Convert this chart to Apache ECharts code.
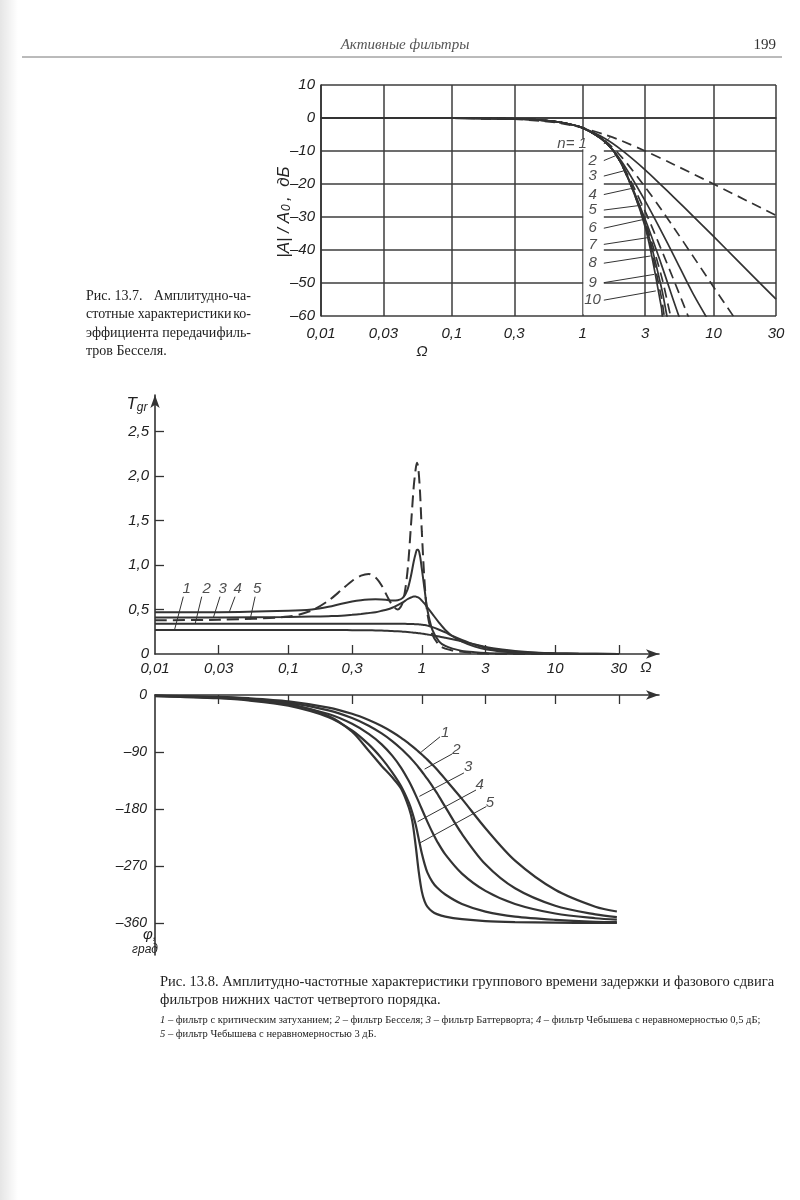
<!DOCTYPE html>
<html><head><meta charset="utf-8">
<script src="https://cdn.jsdelivr.net/npm/echarts@6/dist/echarts.min.js"></script>
<style>html,body{margin:0;padding:0;background:#fff}#c{width:800px;height:1200px}</style>
</head><body><div id="c"></div>
<script>
// ---------- data ----------
const omegaTicks = [0.01, 0.03, 0.1, 0.3, 1, 3, 10, 30];
const ampYTicks = [10, 0, -10, -20, -30, -40, -50, -60];
// Fig 13.7: Bessel filters, |A|/A0 in dB vs Omega, n = 1..10
const bessel1 = [[0.01,0],[0.1,-0.04],[0.3,-0.37],[0.5,-0.97],[0.7,-1.71],[1,-3.01],[1.5,-5.12],[2,-6.99],[3,-10],[5,-14.15],[10,-20],[20,-26],[30,-29.5]];
const bessel2 = [[0.01,0],[0.1,-0.03],[0.3,-0.25],[0.5,-0.71],[0.7,-1.44],[1,-3],[1.5,-6.36],[2,-9.82],[3,-15.7],[4,-20.4],[5,-24.1],[7,-29.8],[10,-35.9],[15,-42.9],[20,-47.9],[30,-54.9]];
const bessel3 = [[0.01,0],[0.1,-0.03],[0.3,-0.27],[0.5,-0.69],[0.7,-1.4],[1,-3],[1.5,-7.12],[2,-12],[3,-20.9],[4,-27.8],[5,-33.4],[7,-42],[10,-51.2],[15,-61.5]];
const bessel4 = [[0.01,0],[0.1,-0.03],[0.3,-0.26],[0.5,-0.71],[0.7,-1.42],[1,-3],[1.5,-7.42],[2,-13.4],[3,-25.1],[4,-34.4],[5,-41.9],[7,-53.4],[10,-64]];
const bessel5 = [[0.01,0],[0.1,-0.03],[0.3,-0.27],[0.5,-0.72],[0.7,-1.43],[1,-3],[1.5,-7.41],[2,-14.06],[3,-28.3],[4,-40],[5,-49.4],[7,-64]];
const bessel6 = [[0.01,0],[0.1,-0.03],[0.3,-0.27],[0.5,-0.72],[0.7,-1.43],[1,-3],[1.5,-7.4],[2,-14.2],[3,-30.7],[4,-44.5],[5,-55.9],[6,-65]];
const bessel7 = [[0.01,0],[0.1,-0.03],[0.3,-0.27],[0.5,-0.72],[0.7,-1.43],[1,-3],[1.5,-7.38],[2,-14.3],[3,-31.5],[4,-48],[4.7,-60],[5.2,-66]];
const bessel8 = [[0.01,0],[0.1,-0.03],[0.3,-0.27],[0.5,-0.72],[0.7,-1.43],[1,-3],[1.5,-7.35],[2,-14.3],[3,-32],[4,-51.5],[4.4,-60],[5,-71]];
const bessel9 = [[0.01,0],[0.1,-0.03],[0.3,-0.27],[0.5,-0.72],[0.7,-1.43],[1,-3],[1.5,-7.33],[2,-14.3],[3,-32.5],[4,-54.5],[4.2,-60],[5,-76]];
const bessel10 = [[0.01,0],[0.1,-0.03],[0.3,-0.27],[0.5,-0.72],[0.7,-1.43],[1,-3],[1.5,-7.3],[2,-14.3],[3,-33],[4,-57.5],[4.06,-60],[5,-80]];
const besselLabels = ['n= 1','2','3','4','5','6','7','8','9','10'];
const besselLabelPos = [[0.83,-7.9],[1.19,-12.9],[1.19,-17.6],[1.19,-23.2],[1.19,-27.9],[1.19,-33.4],[1.19,-38.3],[1.19,-44],[1.19,-49.9],[1.19,-55.2]];
const besselLeaderEnd = [[1.62,-5.8],[1.79,-11.4],[2.07,-16],[2.33,-21.4],[2.86,-26.4],[3.03,-30.6],[3.21,-36.2],[3.31,-41.8],[3.51,-47.4],[3.62,-52.4]];

// Fig 13.8 top: group delay Tgr vs Omega (1 crit., 2 Bessel, 3 Butterworth, 4 Cheb 0.5 dB, 5 Cheb 3 dB)
const gdOmega = [0.01,0.03,0.1,0.15,0.2,0.25,0.3,0.35,0.4,0.45,0.5,0.55,0.6,0.66,0.72,0.78,0.83,0.87,0.9,0.92,0.94,0.97,1.0,1.05,1.1,1.2,1.35,1.5,1.7,2.0,2.5,3,4,5,7,10,15,30];
const gd1 = [0.27,0.27,0.27,0.27,0.269,0.269,0.268,0.267,0.266,0.265,0.263,0.261,0.258,0.255,0.251,0.247,0.243,0.24,0.238,0.236,0.234,0.232,0.229,0.225,0.22,0.21,0.196,0.182,0.165,0.142,0.108,0.08,0.05,0.033,0.018,0.009,0.004,0.001];
const gd2 = [0.34,0.34,0.34,0.34,0.34,0.34,0.34,0.34,0.34,0.34,0.34,0.34,0.34,0.34,0.339,0.338,0.337,0.336,0.335,0.334,0.333,0.331,0.329,0.325,0.319,0.302,0.272,0.242,0.203,0.158,0.104,0.072,0.041,0.026,0.013,0.0065,0.003,0.001];
const gd3 = [0.41,0.41,0.415,0.42,0.425,0.43,0.44,0.45,0.46,0.47,0.485,0.5,0.52,0.55,0.58,0.615,0.635,0.645,0.645,0.64,0.635,0.62,0.6,0.565,0.525,0.45,0.35,0.27,0.2,0.14,0.083,0.053,0.028,0.017,0.008,0.004,0.002,0.0005];
const gd4 = [0.47,0.47,0.485,0.5,0.53,0.565,0.59,0.605,0.612,0.614,0.612,0.607,0.602,0.605,0.63,0.72,0.88,1.04,1.13,1.17,1.17,1.1,0.96,0.72,0.5,0.27,0.14,0.09,0.06,0.035,0.02,0.012,0.006,0.004,0.002,0.001,0.0005,0];
const gd5 = [0.38,0.385,0.42,0.49,0.6,0.72,0.82,0.88,0.9,0.86,0.77,0.65,0.55,0.5,0.58,0.92,1.45,1.88,2.08,2.15,2.1,1.82,1.38,0.8,0.46,0.22,0.1,0.06,0.04,0.025,0.01,0.005,0.002,0.001,0,0,0,0];
const gdYTicks = [0.5, 1, 1.5, 2, 2.5];
const gdYLabels = [0, 0.5, 1, 1.5, 2, 2.5];
const gdLabelPos = [[0.0173,0.727],[0.0244,0.727],[0.0322,0.727],[0.0417,0.727],[0.0584,0.727]];
const gdLeaderStart = [[0.0163,0.644],[0.0224,0.644],[0.0307,0.644],[0.0398,0.644],[0.0563,0.644]];
const gdLeaderEnd = [[0.0140,0.27],[0.0200,0.34],[0.0274,0.41],[0.0360,0.47],[0.0516,0.385]];

// Fig 13.8 bottom: phase shift phi (deg) vs Omega
const phOmega = [0.01,0.03,0.05,0.1,0.2,0.3,0.4,0.5,0.6,0.7,0.8,0.85,0.9,0.95,1.0,1.05,1.1,1.2,1.3,1.5,2,3,5,10,20,29];
const ph1 = [-1,-3,-5,-10,-19.9,-29.7,-39.5,-49.1,-58.5,-67.7,-76.7,-81.1,-85.4,-89.7,-93.9,-98,-102,-110,-117.7,-132.9,-164,-210.3,-261.4,-307.5,-334.3,-341.8];
const ph2 = [-1.2,-3.6,-6.05,-12.1,-24.2,-36.3,-48.4,-60.6,-72.7,-84.8,-96.8,-102.8,-108.8,-114.8,-120.8,-126.8,-132.6,-144,-155,-176.7,-219.4,-267.3,-305.2,-332.8,-346.4,-350.6];
const ph3 = [-1.5,-4.5,-7.5,-15,-30.1,-45.5,-61.4,-77.9,-95.7,-114.9,-135.8,-146.9,-158.1,-169.2,-180,-190.3,-199.9,-216.8,-230.8,-251.7,-282,-309.3,-329.9,-345,-352.5,-354.8];
const ph4 = [-1.7,-5.1,-8.5,-17,-35,-56,-78,-100,-122,-144,-170,-186,-205,-228,-250,-267,-280,-295,-304,-315,-330,-342,-350,-355,-358,-358.5];
const ph5 = [-1.4,-4.1,-6.9,-14,-33,-58,-88,-112,-130,-148,-178,-200,-238,-280,-310,-326,-334,-342,-346,-350,-354,-357,-358.5,-359.5,-360,-360];
const phYTicks = [-90, -180, -270, -360];
const phYLabels = [0, -90, -180, -270, -360];
const phLabelPos = [[1.5,-60],[1.82,-87],[2.23,-114],[2.71,-142],[3.24,-170]];
const phLeaderStart = [[1.37,-66],[1.69,-93],[2.07,-123],[2.55,-150],[3.05,-176]];
const phLeaderEnd = [[0.99,-90],[1.05,-117],[0.96,-160],[0.93,-200],[0.96,-234]];
const curveNames = ['1','2','3','4','5'];

// ---------- helpers ----------
const INK = '#333';
const SANS = '"Liberation Sans", "DejaVu Sans", sans-serif';
const SERIF = '"Liberation Serif", "DejaVu Serif", serif';
const commaNum = v => String(Number(Number(v).toPrecision(4))).replace('.', ',');
const dashNum = v => v === 0 ? '0' : (v < 0 ? '\u2013' + Math.abs(v) : String(v));
const zipXY = (xs, ys) => xs.map((x, i) => [x, ys[i]]);

const ampSeries = [bessel1,bessel2,bessel3,bessel4,bessel5,bessel6,bessel7,bessel8,bessel9,bessel10].map((d, i) => ({
  type: 'line', xAxisIndex: 0, yAxisIndex: 0, data: d, smooth: 0.3, showSymbol: false, silent: true,
  lineStyle: { color: INK, width: 1.7, type: (i % 2 === 0) ? [10, 6] : 'solid' }, z: 3
}));

const gdSeries = [gd1, gd2, gd3, gd4, gd5].map((d, i) => ({
  type: 'line', xAxisIndex: 1, yAxisIndex: 1, data: zipXY(gdOmega, d), smooth: 0.3, showSymbol: false, silent: true,
  lineStyle: { color: INK, width: 2, type: i === 4 ? [12, 6] : 'solid' }, z: 3
}));

const phSeries = [ph1, ph2, ph3, ph4, ph5].map((d) => ({
  type: 'line', xAxisIndex: 2, yAxisIndex: 2, data: zipXY(phOmega, d), smooth: 0.3, showSymbol: false, silent: true,
  lineStyle: { color: INK, width: 2.2 }, z: 3
}));

function labelSeries(ax, pos, names, size) {
  return {
    type: 'scatter', xAxisIndex: ax, yAxisIndex: ax, symbolSize: 1, silent: true,
    itemStyle: { color: 'rgba(0,0,0,0)' },
    data: pos.map((p, i) => ({ value: p, name: names[i] })),
    label: { show: true, position: 'inside', formatter: '{b}', color: '#222',
      fontFamily: SANS, fontStyle: 'italic', fontSize: size }, z: 5
  };
}
function leaderSeries(ax, starts, ends) {
  return {
    type: 'lines', coordinateSystem: 'cartesian2d', xAxisIndex: ax, yAxisIndex: ax, silent: true,
    data: starts.map((s, i) => ({ coords: [s, ends[i]] })),
    lineStyle: { color: '#333', width: 1, opacity: 1 }, z: 5
  };
}

const axisLineStyle = { color: INK, width: 1.6 };
const tickLabel = (extra) => Object.assign({ color: '#222', fontFamily: SANS, fontStyle: 'italic', fontSize: 15 }, extra);

// caption helpers (justified-looking: first part left, last part right)
const CAP_L = 86, CAP_R = 251;
const capFont = '14px ' + SERIF;
function capLine(y, left, right) {
  const out = [{ type: 'text', x: CAP_L, y, style: { text: left, font: capFont, fill: '#222', verticalAlign: 'middle' } }];
  if (right) out.push({ type: 'text', x: CAP_R, y, style: { text: right, font: capFont, fill: '#222', align: 'right', verticalAlign: 'middle' } });
  return out;
}

const option = {
  animation: false,
  backgroundColor: '#fff',
  grid: [
    { left: 321, top: 85, width: 455, height: 231 },
    { left: 155, top: 395, width: 504, height: 259 },
    { left: 155, top: 695, width: 504, height: 260 }
  ],
  xAxis: [
    { type: 'log', gridIndex: 0, logBase: 10, min: 0.01, max: 30,
      axisLine: { show: true, lineStyle: axisLineStyle },
      axisTick: { show: false, customValues: omegaTicks },
      axisLabel: tickLabel({ customValues: omegaTicks, formatter: commaNum, margin: 10 }),
      splitLine: { show: true, lineStyle: { color: '#3c3c3c', width: 1.5 } } },
    { type: 'log', gridIndex: 1, logBase: 10, min: 0.01, max: 60,
      axisLine: { show: true, lineStyle: axisLineStyle, symbol: ['none', 'arrow'], symbolSize: [7, 13] },
      axisTick: { show: true, inside: true, length: 9, customValues: omegaTicks.slice(1), lineStyle: { color: INK, width: 1.3 } },
      axisLabel: tickLabel({ customValues: omegaTicks, formatter: commaNum, margin: 7 }),
      splitLine: { show: false } },
    { type: 'log', gridIndex: 2, logBase: 10, min: 0.01, max: 60, position: 'top',
      axisLine: { show: true, lineStyle: axisLineStyle, symbol: ['none', 'arrow'], symbolSize: [7, 13] },
      axisTick: { show: true, inside: true, length: 9, customValues: omegaTicks.slice(1), lineStyle: { color: INK, width: 1.3 } },
      axisLabel: { show: false },
      splitLine: { show: false } }
  ],
  yAxis: [
    { type: 'value', gridIndex: 0, min: -60, max: 10, interval: 10,
      axisLine: { show: true, lineStyle: axisLineStyle },
      axisTick: { show: false },
      axisLabel: tickLabel({ formatter: dashNum, margin: 6 }),
      splitLine: { show: true, lineStyle: { color: '#3c3c3c', width: 1.5 } } },
    { type: 'value', gridIndex: 1, min: 0, max: 2.91,
      axisLine: { show: true, lineStyle: axisLineStyle, symbol: ['none', 'arrow'], symbolSize: [7, 13] },
      axisTick: { show: true, inside: true, length: 9, customValues: gdYTicks, lineStyle: { color: INK, width: 1.3 } },
      axisLabel: tickLabel({ customValues: gdYLabels, margin: 6, formatter: v => v === 0 ? '0' : v.toFixed(1).replace('.', ',') }),
      splitLine: { show: false } },
    { type: 'value', gridIndex: 2, min: -410.5, max: 0,
      axisLine: { show: true, lineStyle: axisLineStyle },
      axisTick: { show: true, inside: true, length: 9, customValues: phYTicks, lineStyle: { color: INK, width: 1.3 } },
      axisLabel: tickLabel({ customValues: phYLabels, margin: 8, fontSize: 14, formatter: dashNum }),
      splitLine: { show: false } }
  ],
  series: [
    { type: 'line', xAxisIndex: 0, yAxisIndex: 0, data: [[0.01, 0]], showSymbol: false, silent: true,
      lineStyle: { opacity: 0 }, z: 2,
      markArea: { silent: true, itemStyle: { color: '#fff', opacity: 1 },
        data: [[{ coord: [0.78, -6.3] }, { coord: [1.28, -9.5] }],
               [{ coord: [1.012, -9.5] }, { coord: [1.45, -59.5] }]] } },
    ...ampSeries,
    labelSeries(0, besselLabelPos, besselLabels, 15),
    leaderSeries(0, besselLabelPos.map(p => [1.45, p[1]]), besselLeaderEnd),
    ...gdSeries,
    labelSeries(1, gdLabelPos, curveNames, 15),
    leaderSeries(1, gdLeaderStart, gdLeaderEnd),
    ...phSeries,
    labelSeries(2, phLabelPos, curveNames, 15),
    leaderSeries(2, phLeaderStart, phLeaderEnd)
  ],
  graphic: [
    // faint scan shading at the left page edge
    { type: 'rect', shape: { x: 0, y: 0, width: 18, height: 1200 }, silent: true,
      style: { fill: { type: 'linear', x: 0, y: 0, x2: 1, y2: 0, colorStops: [{ offset: 0, color: 'rgba(0,0,0,0.10)' }, { offset: 1, color: 'rgba(0,0,0,0)' }] } } },
    // page header
    { type: 'text', x: 405, y: 45, style: { text: 'Активные фильтры', font: 'italic 15px ' + SERIF, fill: '#555', align: 'center', verticalAlign: 'middle' } },
    { type: 'text', x: 776, y: 45, style: { text: '199', font: '15px ' + SERIF, fill: '#333', align: 'right', verticalAlign: 'middle' } },
    { type: 'line', shape: { x1: 22, y1: 57, x2: 782, y2: 57 }, style: { stroke: '#777', lineWidth: 1 } },
    // fig 13.7 axis names
    { type: 'text', x: 284, y: 212, rotation: Math.PI / 2,
      style: { text: '{a||A| / A}{s|0} {a|,  дБ}', align: 'center', verticalAlign: 'middle',
        rich: { a: { font: 'italic 17px ' + SANS, fill: '#222' }, s: { font: 'italic 12px ' + SANS, fill: '#222', padding: [6, 0, 0, 1] } } } },
    { type: 'text', x: 422, y: 352, style: { text: 'Ω', font: 'italic 15px ' + SANS, fill: '#222', align: 'center', verticalAlign: 'middle' } },
    // fig 13.7 caption
    ...capLine(296, 'Рис. 13.7.', 'Амплитудно-ча-'),
    ...capLine(314.5, 'стотные характеристики', 'ко-'),
    ...capLine(333, 'эффициента передачи', 'филь-'),
    ...capLine(351.5, 'тров Бесселя.', null),
    // fig 13.8 axis names
    { type: 'text', x: 137, y: 404, style: { text: '{a|T}{b|gr}', align: 'center', verticalAlign: 'middle',
        rich: { a: { font: 'italic 17px ' + SANS, fill: '#222' }, b: { font: 'italic 12px ' + SANS, fill: '#222', padding: [8, 0, 0, 0] } } } },
    { type: 'text', x: 646, y: 668, style: { text: 'Ω', font: 'italic 15px ' + SANS, fill: '#222', align: 'center', verticalAlign: 'middle' } },
    { type: 'text', x: 150, y: 935, style: { text: 'φ,', font: 'italic 15px ' + SANS, fill: '#222', align: 'center', verticalAlign: 'middle' } },
    { type: 'text', x: 145, y: 950, style: { text: 'град', font: 'italic 12px ' + SANS, fill: '#222', align: 'center', verticalAlign: 'middle' } },
    // fig 13.8 caption
    { type: 'text', x: 160, y: 982, style: { text: 'Рис. 13.8. Амплитудно-частотные характеристики группового времени задержки и фазового сдвига', font: '14.5px ' + SERIF, fill: '#222', verticalAlign: 'middle' } },
    { type: 'text', x: 160, y: 1000, style: { text: 'фильтров нижних частот четвертого порядка.', font: '14.5px ' + SERIF, fill: '#222', verticalAlign: 'middle' } },
    { type: 'text', x: 160, y: 1020, style: { text: '{i|1} – фильтр с критическим затуханием; {i|2} – фильтр Бесселя; {i|3} – фильтр Баттерворта; {i|4} – фильтр Чебышева с неравномерностью 0,5 дБ;', font: '10.5px ' + SERIF, fill: '#222', verticalAlign: 'middle',
        rich: { i: { font: 'italic 10.5px ' + SERIF, fill: '#222' } } } },
    { type: 'text', x: 160, y: 1034, style: { text: '{i|5} – фильтр Чебышева с неравномерностью 3 дБ.', font: '10.5px ' + SERIF, fill: '#222', verticalAlign: 'middle',
        rich: { i: { font: 'italic 10.5px ' + SERIF, fill: '#222' } } } }
  ]
};

const chart = echarts.init(document.getElementById('c'), null, { renderer: 'canvas', width: 800, height: 1200 });
chart.setOption(option);
</script>
</body></html>
